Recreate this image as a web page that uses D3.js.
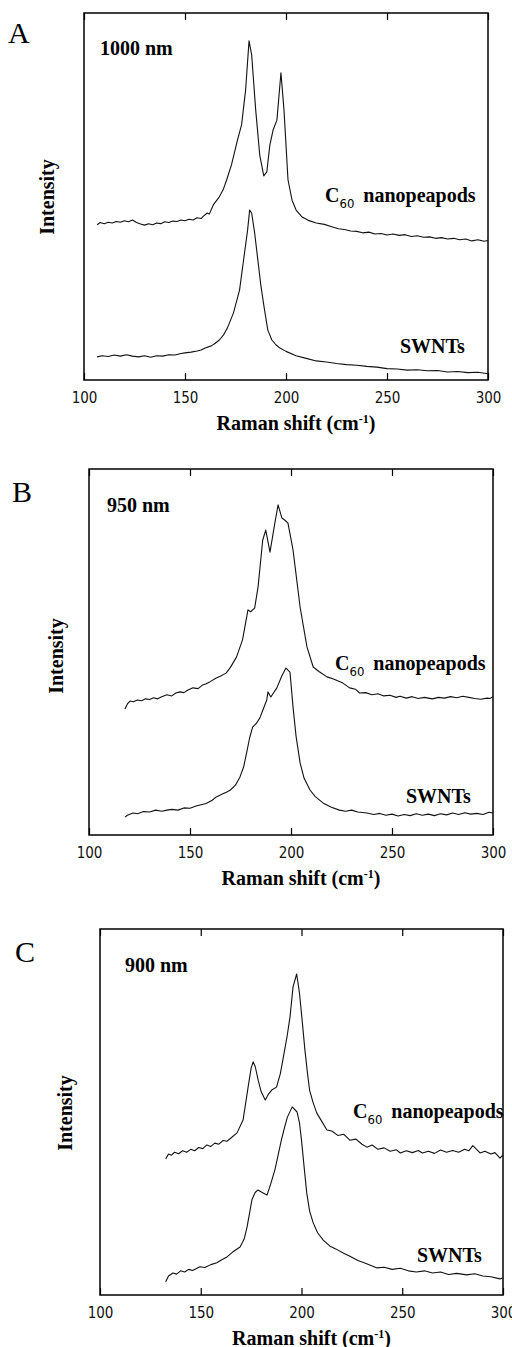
<!DOCTYPE html>
<html>
<head>
<meta charset="utf-8">
<script src="https://cdn.jsdelivr.net/npm/d3@7"></script>
<style>
  body { margin: 0; background: #fff; }
  svg { display: block; }
</style>
</head>
<body>
<div id="chart"></div>
<script>
const _WIDTH = 512
const _HEIGHT = 1347

// Data: [Raman shift (cm-1), intensity (arb.)]
const xTicks = [100, 150, 200, 250, 300]
const panelNames = ["A", "B", "C"]
const wavelengths = ["1000 nm", "950 nm", "900 nm"]

const aPeapods = [[106.5,42.3],[108,42.9],[110,42.6],[112,43.0],[114,42.8],[116,43.2],[118,43.0],[120,43.4],[122,43.1],[124,43.6],[126,42.9],[128,42.5],[130,42.2],[132,42.6],[134,42.3],[136,42.8],[138,42.6],[140,43.1],[142,42.9],[144,43.3],[146,43.2],[148,43.6],[150,43.4],[152,43.8],[154,43.6],[156,44.2],[158,44.0],[159,44.6],[161,45.5],[162,45.2],[164,47.7],[167,49.9],[169,52.0],[170.6,54.5],[173,58.6],[176,65.4],[178,69.5],[180,79],[181.7,92.4],[183,88.6],[185,73.6],[187,61.3],[189,55.6],[190.5,56.7],[192,64],[193.6,68.1],[195.5,70.8],[197.5,83.7],[199,73.6],[201,54.5],[203,49],[205,46.3],[208,44.4],[211,43.5],[215,42.8],[219,42.4],[223,41.7],[226,41.2],[229,41.0],[232,40.6],[235,40.5],[238,40.1],[241,40.3],[244,39.8],[247,39.9],[250,39.5],[253,39.8],[256,39.4],[259,39.6],[262,39.1],[265,39.3],[268,38.9],[271,39.0],[274,38.6],[277,38.8],[280,38.4],[283,38.6],[286,38.2],[289,38.4],[292,37.9],[295,38.2],[298,37.8],[300,38.0]]
const aSwnts = [[106.5,6.3],[109,6.6],[112,6.4],[115,6.8],[118,6.5],[121,6.9],[124,6.5],[127,6.3],[130,6.6],[133,6.2],[136,6.6],[139,6.5],[142,6.9],[145,6.8],[148,7.2],[150,7.4],[153,7.6],[156,7.9],[158,8.2],[160,8.7],[163,9.3],[165,10.0],[167,10.9],[169,12.2],[171,14.2],[174,18.3],[177,24.5],[179,32.7],[181,40.9],[182,46.3],[183,45.5],[184.5,40],[186,33],[187.5,26],[189,20.4],[191,13.6],[193,10.9],[195,9.6],[197,8.7],[200,7.8],[205,6.6],[210,5.9],[215,5.2],[220,4.9],[225,4.5],[230,4.2],[235,4.0],[240,3.7],[245,3.5],[250,3.1],[255,3.0],[260,2.7],[265,2.8],[270,2.5],[275,2.6],[280,2.2],[285,2.3],[290,2.0],[295,2.1],[300,1.7]]

const bPeapods = [[117.8,34.4],[119,35.8],[120.3,36.6],[122,36.4],[124,36.9],[126,36.7],[128,37.2],[130,37.0],[132,37.5],[134,37.2],[136,37.8],[138.6,38.3],[141,38.0],[143,38.8],[145,39.1],[147,38.9],[149,39.6],[151.5,40.2],[154,40.0],[156,40.9],[158,41.3],[160,41.9],[163,42.9],[165,43.4],[168,44.3],[170,45.8],[173,48.6],[176,53.3],[178.7,61.5],[180,61.0],[182,62],[183.7,67.8],[186,80.6],[187.5,83.3],[189.6,77.3],[192,85.2],[193.6,90.2],[195.5,86.6],[197,86.0],[198.5,85.2],[201,77.9],[204.5,62.3],[207.9,51.4],[211,45.9],[214,44.6],[217.8,43.2],[221,42.6],[225.7,41.5],[229,40.2],[232,39.8],[234,38.8],[237,38.9],[240,38.3],[243,38.6],[246,38.0],[249,38.2],[252,37.6],[254,37.9],[257,37.4],[260,37.8],[263,37.3],[266,37.6],[270,37.2],[273,37.6],[276,37.4],[279,37.8],[282,37.5],[285,37.9],[288,37.6],[291,37.3],[294,37.1],[297,37.4],[298.5,37.3],[300,37.8]]
const bSwnts = [[117.8,4.9],[119,5.4],[121.8,6.0],[124,5.8],[127,6.4],[130,6.3],[133,6.8],[136,6.5],[138.6,6.8],[141,7.0],[144,6.8],[147,7.4],[150,7.3],[153,7.9],[155,8.2],[158,8.6],[161,9.5],[163,10.4],[166,11.2],[168,11.7],[170,12.3],[172.5,13.6],[174.7,15.8],[176.5,18.5],[178,22.4],[179.5,26.5],[181,29.5],[183,30.6],[184.6,32],[186,34.0],[188,36.9],[188.6,39.1],[190,37.7],[193,40.2],[195.5,43.5],[197.5,45.6],[199.5,44.5],[201,35],[202.5,27],[204.5,19.7],[206.5,15.5],[209.4,12.3],[212,10.5],[216,8.7],[220,7.6],[224,6.8],[227,6.5],[230,6.8],[233,6.3],[237.6,6.0],[241,5.6],[244,5.9],[247,5.4],[250,5.7],[253,5.2],[256,5.6],[259,5.3],[262,5.8],[265,5.4],[268,5.7],[271,5.3],[274,5.8],[277,5.5],[280,6.0],[283,5.6],[286,6.1],[289,5.7],[292,5.9],[295,5.6],[298,6.2],[300,6.0]]

const cPeapods = [[132.6,37.2],[134,38.5],[135.5,38.2],[137,39.0],[139,38.6],[141,39.4],[143,39.0],[145,39.8],[147,39.4],[149,40.3],[151,40.0],[153,41.0],[155,40.6],[157,41.5],[159,41.2],[161,42.2],[163,42.0],[165,42.9],[168,44.3],[171,47.8],[173.5,56.8],[175,62],[176,63.7],[177,62.5],[178.5,58.7],[180,55.5],[182,53.3],[183.5,54.8],[185.2,56],[187.6,56.8],[189.5,60.5],[191,65],[192.8,70.5],[194.3,76],[195.8,84.2],[197.6,87.7],[199,82.5],[200.5,74],[201.7,66.9],[203,60.5],[204,56],[205.8,52.5],[207.6,49.7],[210,47.5],[212.6,45.1],[215,44.8],[218,43.6],[221,43.9],[224,42.3],[227,42.6],[230,41.2],[232.5,40.4],[235,41.0],[238,39.8],[241,40.2],[244,39.3],[247,39.7],[249,38.8],[252,39.4],[255,38.9],[258,39.5],[260,38.8],[263,39.3],[266,38.7],[269,39.6],[272,39.0],[275,39.5],[278,39.0],[281,39.8],[283,39.4],[285,40.8],[286.5,40.0],[288.6,38.8],[291,39.3],[294,38.5],[296,38.9],[298.5,37.4],[300,38.3]]
const cSwnts = [[132.6,3.6],[134,5.2],[136.2,6.0],[138,5.7],[140,6.6],[142,6.3],[144,7.0],[146,6.7],[149.6,7.7],[152,7.5],[155,8.3],[158,8.8],[160,9.5],[163,10.4],[166,11.8],[169.5,13.1],[171.5,15.2],[173,18.6],[175.4,26],[177,28.0],[178.4,28.7],[180.5,28.0],[182.9,27.3],[184.8,30.5],[186.8,34.2],[188.5,38.5],[190,42.3],[191.5,45.6],[193,48.6],[195.4,51.4],[197.8,50],[199,47],[200,42.3],[201.3,35],[202.6,27.9],[204,23],[205.8,19.7],[208,17.0],[210.8,15],[214,13.4],[217,12.6],[220.7,11.5],[224,10.6],[228,9.4],[232,8.6],[237.5,7.4],[241,7.6],[245,7.0],[249,7.3],[253,6.6],[257,6.3],[261,6.6],[265,6.0],[269,6.3],[273,5.6],[277,5.9],[282,5.5],[286,5.8],[290,5.2],[294,5.0],[298.5,4.4],[300,4.7]]

const peapodSeries = [aPeapods, bPeapods, cPeapods]
const swntSeries = [aSwnts, bSwnts, cSwnts]

// Layout of each panel (pixel boxes)
const _BOXES = [
    { left: 84, right: 488, top: 13, bottom: 380, letterX: 8, letterY: 43, nmX: 100, nmY: 55, intX: 47, intY: 197, peaX: 325, peaY: 202, swX: 400, swY: 353 },
    { left: 89, right: 493, top: 469, bottom: 835, letterX: 12, letterY: 502, nmX: 107, nmY: 512, intX: 56, intY: 656, peaX: 335, peaY: 670, swX: 406, swY: 803 },
    { left: 100, right: 503, top: 929, bottom: 1295, letterX: 15, letterY: 962, nmX: 125, nmY: 972, intX: 65, intY: 1113, peaX: 353, peaY: 1118, swX: 417, swY: 1262 },
]

const SERIF = "'Liberation Serif', 'Times New Roman', serif"
const NARROW = "'Liberation Sans Narrow', 'DejaVu Sans Condensed', sans-serif"

const svg = d3
    .select("#chart")
    .append("svg")
    .attr("width", _WIDTH)
    .attr("height", _HEIGHT)

panelNames.forEach((name, i) => {
    const b = _BOXES[i]
    const xScale = d3.scaleLinear().domain([100, 300]).range([b.left, b.right])
    const yScale = d3.scaleLinear().domain([0, 100]).range([b.bottom, b.top])
    const g = svg.append("g").attr("class", "panel-" + name)

    // Axes (ticks point inward)
    g.append("g")
        .attr("transform", `translate(0,${b.bottom})`)
        .call(d3.axisBottom(xScale).tickValues(xTicks).tickSize(-7).tickSizeOuter(0).tickPadding(12))
        .call(ax => ax.select(".domain").remove())
        .call(ax => ax.selectAll("line").attr("stroke", "#000").attr("stroke-width", 1.2))
        .call(ax => ax.selectAll("text")
            .attr("font-family", NARROW)
            .attr("font-size", 15)
            .attr("fill", "#111"))
    g.append("g")
        .attr("transform", `translate(0,${b.top})`)
        .call(d3.axisTop(xScale).tickValues(xTicks).tickSize(-7).tickSizeOuter(0).tickFormat(""))
        .call(ax => ax.select(".domain").remove())
        .call(ax => ax.selectAll("line").attr("stroke", "#000").attr("stroke-width", 1.2))

    // Frame
    g.append("rect")
        .attr("x", b.left)
        .attr("y", b.top)
        .attr("width", b.right - b.left)
        .attr("height", b.bottom - b.top)
        .attr("fill", "none")
        .attr("stroke", "#000")
        .attr("stroke-width", 1.5)

    const line = d3.line()
        .x(d => xScale(d[0]))
        .y(d => yScale(d[1]))

    ;[peapodSeries[i], swntSeries[i]].forEach(series => {
        g.append("path")
            .datum(series)
            .attr("fill", "none")
            .attr("stroke", "#111")
            .attr("stroke-width", 1.1)
            .attr("stroke-linejoin", "round")
            .attr("d", line)
    })

    // Texts
    g.append("text")
        .attr("x", b.letterX)
        .attr("y", b.letterY)
        .attr("font-family", SERIF)
        .attr("font-size", 30)
        .text(name)

    g.append("text")
        .attr("x", b.nmX)
        .attr("y", b.nmY)
        .attr("font-family", SERIF)
        .attr("font-weight", "bold")
        .attr("font-size", 20)
        .text(wavelengths[i])

    g.append("text")
        .attr("transform", `translate(${b.intX},${b.intY})rotate(-90)`)
        .attr("text-anchor", "middle")
        .attr("dy", "0.35em")
        .attr("font-family", SERIF)
        .attr("font-weight", "bold")
        .attr("font-size", 20)
        .text("Intensity")

    const pea = g.append("text")
        .attr("x", b.peaX)
        .attr("y", b.peaY)
        .attr("font-family", SERIF)
        .attr("font-weight", "bold")
        .attr("font-size", 20)
    pea.append("tspan").text("C")
    pea.append("tspan")
        .attr("dy", 6)
        .attr("font-family", NARROW)
        .attr("font-weight", "normal")
        .attr("font-size", 13)
        .text("60")
    pea.append("tspan")
        .attr("dy", -6)
        .attr("dx", 9)
        .text("nanopeapods")

    g.append("text")
        .attr("x", b.swX)
        .attr("y", b.swY)
        .attr("font-family", SERIF)
        .attr("font-weight", "bold")
        .attr("font-size", 20)
        .text("SWNTs")

    const title = g.append("text")
        .attr("x", (b.left + b.right) / 2 + 10)
        .attr("y", b.bottom + 43)
        .attr("dy", "0.35em")
        .attr("text-anchor", "middle")
        .attr("font-family", SERIF)
        .attr("font-weight", "bold")
        .attr("font-size", 20)
    title.append("tspan").text("Raman shift (cm")
    title.append("tspan").attr("dy", -7).attr("font-size", 12).text("-1")
    title.append("tspan").attr("dy", 7).text(")")
})
</script>
</body>
</html>
